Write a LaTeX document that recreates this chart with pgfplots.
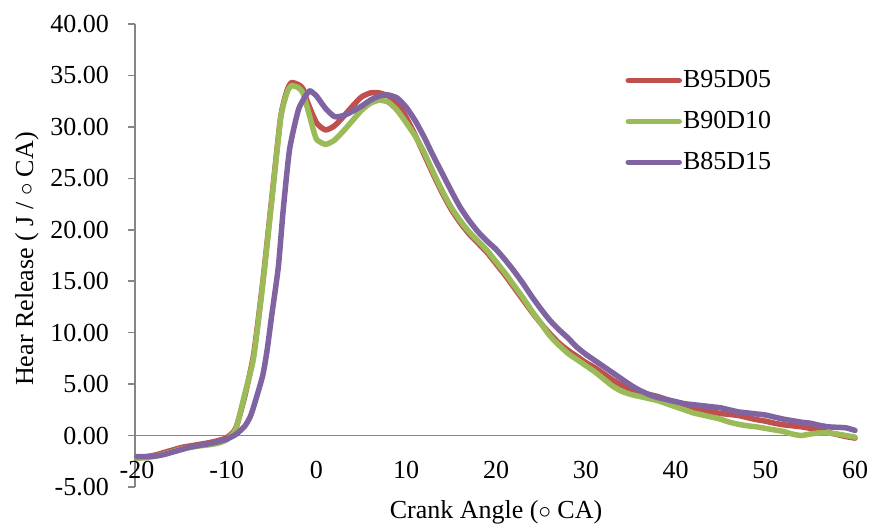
\documentclass[border=0pt]{standalone}
\usepackage{fontspec}
\setmainfont{Liberation Serif}
\usepackage{pgfplots}
\usepackage{pgfplotstable}
\pgfplotsset{compat=1.18}
\definecolor{cred}{HTML}{C0504D}
\definecolor{cgreen}{HTML}{9BBB59}
\definecolor{cpurple}{HTML}{8064A2}
\definecolor{axgray}{HTML}{868686}
\pgfplotstableread{
x y
-20 -2.10
-19 -2.05
-18 -1.90
-17 -1.65
-16 -1.40
-15 -1.15
-14 -1.00
-13 -0.85
-12 -0.70
-11 -0.50
-10 -0.20
-9 0.70
-8 3.80
-7 7.90
-6 14.80
-5 22.90
-4 30.90
-3.3 33.50
-2.8 34.30
-2 34.10
-1.5 33.70
-1 32.40
0 30.40
1 29.70
2 30.10
3 31.00
4 32.00
5 32.90
6 33.30
7 33.30
8 33.00
9 32.30
10 30.90
11 29.20
12 27.30
13 25.40
14 23.60
15 22.00
16 20.70
17 19.60
18 18.70
19 17.80
20 16.70
21 15.60
22 14.40
23 13.20
24 12.00
25 10.90
26 9.90
27 9.00
28 8.30
29 7.70
30 7.10
31 6.60
32 6.00
33 5.40
34 4.90
35 4.50
36 4.20
37 4.00
38 3.80
39 3.50
40 3.20
41 2.90
42 2.60
43 2.45
44 2.30
45 2.15
46 2.05
47 1.95
48 1.75
49 1.55
50 1.40
51 1.20
52 1.05
53 0.95
54 0.85
55 0.70
56 0.50
57 0.30
58 0.10
59 -0.10
60 -0.25
}\redtab
\pgfplotstableread{
x y
-20 -2.20
-19 -2.15
-18 -2.00
-17 -1.80
-16 -1.55
-15 -1.30
-14 -1.15
-13 -1.00
-12 -0.90
-11 -0.75
-10 -0.40
-9 0.60
-8 4.00
-7 7.60
-6 14.60
-5 22.70
-4 30.80
-3.3 33.30
-2.8 34.00
-2 33.80
-1.5 33.30
-1 31.80
-0.5 30.20
0 28.80
1 28.30
2 28.70
3 29.60
4 30.60
5 31.60
6 32.30
7 32.60
8 32.40
9 31.60
10 30.40
11 29.10
12 27.50
13 25.60
14 23.80
15 22.20
16 20.90
17 19.80
18 18.90
19 18.00
20 16.90
21 15.80
22 14.60
23 13.40
24 12.10
25 10.90
26 9.70
27 8.80
28 8.00
29 7.40
30 6.80
31 6.20
32 5.50
33 4.80
34 4.30
35 4.00
36 3.80
37 3.60
38 3.40
39 3.10
40 2.80
41 2.50
42 2.20
43 2.00
44 1.80
45 1.60
46 1.30
47 1.10
48 0.95
49 0.85
50 0.70
51 0.55
52 0.40
53 0.15
54 0.00
55 0.15
56 0.25
57 0.25
58 0.15
59 0.00
60 -0.15
}\greentab
\pgfplotstableread{
x y
-20 -2.05
-19 -2.05
-18 -2.00
-17 -1.85
-16 -1.60
-15 -1.35
-14 -1.10
-13 -0.95
-12 -0.80
-11 -0.60
-10 -0.35
-9 0.10
-8 0.90
-7.4 1.80
-7 2.80
-6 5.80
-5.5 8.30
-5 11.60
-4.25 16.40
-3.7 22.00
-3 27.80
-2 31.70
-1 33.30
-0.7 33.50
0 33.00
1 31.80
2 31.00
3 31.10
4 31.50
5 32.00
6 32.60
7 33.00
8 33.10
9 32.80
10 31.90
11 30.60
12 29.00
13 27.20
14 25.50
15 23.80
16 22.20
17 20.90
18 19.80
19 18.90
20 18.10
21 17.10
22 16.00
23 14.80
24 13.50
25 12.30
26 11.20
27 10.30
28 9.50
29 8.60
30 7.90
31 7.30
32 6.70
33 6.10
34 5.50
35 4.90
36 4.40
37 4.00
38 3.70
39 3.50
40 3.30
41 3.10
42 3.00
43 2.90
44 2.80
45 2.70
46 2.50
47 2.30
48 2.20
49 2.10
50 2.00
51 1.80
52 1.60
53 1.45
54 1.30
55 1.20
56 1.00
57 0.85
58 0.80
59 0.75
60 0.50
}\purpletab
\begin{document}
\fontsize{26}{31}\selectfont
\begin{tikzpicture}
\useasboundingbox (0,0) rectangle (869pt,527pt);
\begin{axis}[
  at={(135pt,40pt)}, anchor=south west,
  scale only axis, width=721pt, height=463pt,
  xmin=-20.22, xmax=60.11, ymin=-5, ymax=40,
  axis x line=middle, axis y line=left,
  axis line style={-, draw=axgray, line width=1.5pt},
  every inner x axis line/.append style={-},
  every outer y axis line/.append style={-},
  clip=false,
  xtick={-20,-10,...,60},
  ytick={-5,0,...,40},
  hide obscured x ticks=false, hide obscured y ticks=false,
  tick align=outside,
  major tick length=7pt,
  tick style={draw=axgray, line width=1.5pt},
  major x tick style={draw=none},
  /pgf/number format/assume math mode=true,
  y tick label style={/pgf/number format/fixed, /pgf/number format/fixed zerofill, /pgf/number format/precision=2},
  yticklabel style={inner sep=0pt, anchor=east, xshift=-19pt},
  xticklabel style={inner sep=0pt, anchor=north, yshift=-18pt},
  xlabel={Crank Angle ($\circ$ CA)},
  ylabel={Hear Release ( J / $\circ$ CA)},
  every axis x label/.style={at={(axis description cs:0.5007,-0.054)}, anchor=center},
  every axis y label/.style={at={(axis description cs:-0.1498,0.4924)}, anchor=center, rotate=90},
  legend style={at={(axis description cs:0.6803,0.9006)}, anchor=north west, draw=none, fill=none, inner sep=0pt, outer sep=0pt, row sep=19.7pt, column sep=1pt, nodes={inner sep=0pt}},
  legend cell align=left,
  legend image code/.code={\draw[#1, line cap=round] (0pt,0pt) -- (51pt,0pt);},
]
\addplot[cred, line width=5.5pt, smooth, tension=0.35, line join=round, line cap=round] table {\redtab};
\addlegendentry{B95D05}
\addplot[cgreen, line width=5.5pt, smooth, tension=0.35, line join=round, line cap=round] table {\greentab};
\addlegendentry{B90D10}
\addplot[cpurple, line width=5.5pt, smooth, tension=0.35, line join=round, line cap=round] table {\purpletab};
\addlegendentry{B85D15}
\end{axis}
\end{tikzpicture}
\end{document}
